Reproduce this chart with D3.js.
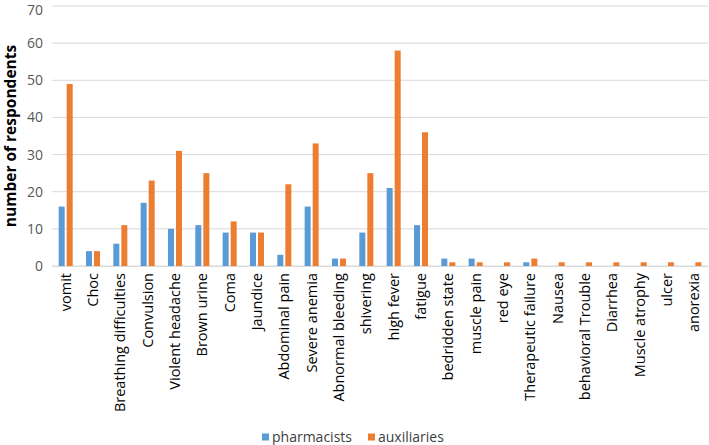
<!DOCTYPE html>
<html><head><meta charset="utf-8">
<script src="https://cdn.jsdelivr.net/npm/d3@7"></script>
<style>body{margin:0;background:#fff}svg{display:block}</style>
</head><body>
<svg id="c" width="709" height="445"></svg>
<script>
const categories = ["vomit","Choc","Breathing difficulties","Convulsion","Violent headache","Brown urine","Coma","Jaundice","Abdominal pain","Severe anemia","Abnormal bleeding","shivering","high fever","fatigue","bedridden state","muscle pain","red eye","Therapeutic failure","Nausea","behavioral Trouble","Diarrhea","Muscle atrophy","ulcer","anorexia"];
const pharmacists = [16,4,6,17,10,11,9,9,3,16,2,9,21,11,2,2,0,1,0,0,0,0,0,0];
const auxiliaries = [49,4,11,23,31,25,12,9,22,33,2,25,58,36,1,1,1,2,1,1,1,1,1,1];
const seriesNames = ["pharmacists","auxiliaries"];
const yTicks = [0,10,20,30,40,50,60,70];
const colors = ["#5B9BD5","#ED7D31"];

const svg = d3.select("#c");
const font = "'Open Sans', sans-serif";
const m = {l:52, r:1, t:6, b:179};
const W = 709, H = 445;
const x = d3.scaleBand().domain(categories).range([m.l, W-m.r]);
const x1 = d3.scaleBand().domain(seriesNames).range([0, x.bandwidth()]).paddingInner(0.25).paddingOuter(0.83);
const y = d3.scaleLinear().domain([0,70]).range([H-m.b, m.t]);

// grid
svg.append("g").selectAll("line").data(yTicks).join("line")
  .attr("x1", m.l).attr("x2", W-m.r)
  .attr("y1", d=>y(d)).attr("y2", d=>y(d))
  .attr("stroke", "#d9d9d9").attr("stroke-width", 1);

// y axis labels
const yAxis = d3.axisLeft(y).tickValues(yTicks).tickSize(0).tickPadding(9);
const ya = svg.append("g").attr("transform", `translate(${m.l},0)`).call(yAxis);
ya.select(".domain").remove();
ya.selectAll("text").attr("font-family", font).attr("font-size", 14).attr("fill", "#595959")
  .attr("dy", (d)=> d===70 ? "0.62em" : "0.32em");

// bars
const data = categories.map((c,i)=>({c, vals:[pharmacists[i], auxiliaries[i]]}));
const g = svg.append("g").selectAll("g").data(data).join("g")
  .attr("transform", d=>`translate(${x(d.c)},0)`);
g.selectAll("rect").data(d=>d.vals.map((v,j)=>({k:seriesNames[j], v, j})))
  .join("rect")
  .attr("x", d=>x1(d.k)).attr("width", x1.bandwidth())
  .attr("y", d=>y(d.v)).attr("height", d=>y(0)-y(d.v))
  .attr("fill", d=>colors[d.j]);

// x axis
const xa = svg.append("g").attr("transform", `translate(0,${y(0)})`)
  .call(d3.axisBottom(x).tickSize(0).tickPadding(0));
xa.select(".domain").attr("stroke", "#d9d9d9");
xa.selectAll("text")
  .attr("font-family", font).attr("font-size", 14.5).attr("fill", "#000")
  .attr("transform", "rotate(-90)")
  .attr("text-anchor", "end").attr("x", -7).attr("y", 0).attr("dy", "0.35em");

// y title
svg.append("text").attr("transform", `translate(11,${(y(0)+y(70))/2}) rotate(-90)`)
  .attr("text-anchor","middle").attr("dy","0.35em").attr("font-family", font).attr("font-weight","bold")
  .attr("font-size", 15.5).text("number of respondents");

// legend
const leg = svg.append("g").attr("transform", "translate(262,437)");
const items = leg.selectAll("g").data(seriesNames).join("g")
  .attr("transform", (d,i)=>`translate(${i*106},0)`);
items.append("rect").attr("x",0).attr("y",-3.5).attr("width",7).attr("height",7).attr("fill",(d,i)=>colors[i]);
items.append("text").attr("x",10).attr("y",0).attr("dy","0.35em")
  .attr("font-family", font).attr("font-size",14).attr("fill","#404040").text(d=>d);
</script>
</body></html>
